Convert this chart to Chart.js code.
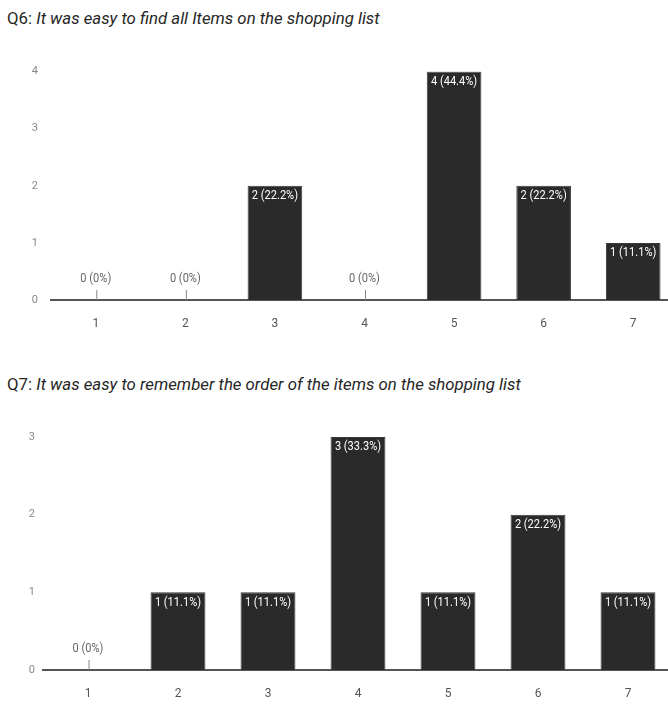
<!DOCTYPE html>
<html>
<head>
<meta charset="utf-8">
<script src="https://cdn.jsdelivr.net/npm/chart.js@4"></script>
<style>
    html, body { margin: 0; padding: 0; overflow: hidden; background: #fff; }
    body { width: 668px; height: 715px; position: relative; font-family: Roboto, sans-serif; }
    .title { position: absolute; left: 7px; font-size: 16.8px; line-height: 20px; color: #262626; white-space: nowrap; }
    .title i { font-style: italic; }
    .wrap { position: absolute; left: 0; }
</style>
</head>
<body>
<div class="title" style="top:8px">Q6: <i>It was easy to find all Items on the shopping list</i></div>
<div class="wrap" style="top:60px; width:678px; height:275px"><canvas id="q6Chart"></canvas></div>
<div class="title" style="top:374px">Q7: <i>It was easy to remember the order of the items on the shopping list</i></div>
<div class="wrap" style="top:425px; width:673px; height:280px"><canvas id="q7Chart"></canvas></div>
<script>
const scaleLabels = ['1', '2', '3', '4', '5', '6', '7'];
const q6Counts = [0, 0, 2, 0, 4, 2, 1];
const q7Counts = [0, 1, 1, 3, 1, 2, 1];
const q6Ticks = [0, 1, 2, 3, 4];
const q7Ticks = [0, 1, 2, 3];

function pctText(v, total) {
    const p = v / total * 100;
    return v + ' (' + (p === 0 ? '0' : p.toFixed(1)) + '%)';
}

// writes "n (x%)" inside each bar, or above a small stub for empty answers
const barLabels = {
    id: 'barLabels',
    afterDatasetsDraw(chart) {
        const ctx = chart.ctx;
        const data = chart.data.datasets[0].data;
        const total = data.reduce((a, b) => a + b, 0);
        const base = chart.scales.y.getPixelForValue(0);
        chart.getDatasetMeta(0).data.forEach((bar, i) => {
            const v = data[i];
            const text = pctText(v, total);
            ctx.save();
            if (v > 0) {
                ctx.translate(bar.x, bar.y + 10);
                ctx.scale(0.85, 1);
                ctx.fillStyle = '#ffffff';
            } else {
                ctx.strokeStyle = '#888';
                ctx.lineWidth = 1;
                ctx.beginPath();
                ctx.moveTo(bar.x + 1, base);
                ctx.lineTo(bar.x + 1, base - 10);
                ctx.stroke();
                ctx.translate(bar.x, base - 21);
                ctx.scale(0.85, 1);
                ctx.fillStyle = '#666';
            }
            ctx.font = '13px Roboto';
            ctx.textAlign = 'center';
            ctx.textBaseline = 'middle';
            ctx.fillText(text, 0, 0);
            ctx.restore();
        });
    }
};

function buildChart(ctx, counts, ticks, axisWidth, tickPad, topPad) {
    return new Chart(ctx, {
        type: 'bar',
        data: {
            labels: scaleLabels,
            datasets: [{
                data: counts,
                backgroundColor: '#2a2a2a',
                borderColor: '#3a3a3a',
                borderWidth: 1,
                categoryPercentage: 1,
                barPercentage: 0.61
            }]
        },
        options: {
            responsive: true,
            maintainAspectRatio: false,
            animation: false,
            layout: { padding: { top: topPad, right: 0, bottom: 0, left: 0 } },
            plugins: {
                legend: { display: false },
                tooltip: { enabled: false }
            },
            scales: {
                x: {
                    grid: { display: false },
                    border: { display: true, color: '#555', width: 2 },
                    ticks: { color: '#555', font: { family: 'Roboto', size: 12 }, padding: 9 },
                    afterFit(scale) { scale.height = 35; }
                },
                y: {
                    min: ticks[0],
                    max: ticks[ticks.length - 1],
                    afterBuildTicks(scale) { scale.ticks = ticks.map(v => ({ value: v })); },
                    grid: { display: false },
                    border: { display: false },
                    ticks: { color: '#888', font: { family: 'Roboto', size: 11 }, padding: tickPad },
                    afterFit(scale) { scale.width = axisWidth; }
                }
            }
        },
        plugins: [barLabels]
    });
}

document.addEventListener('DOMContentLoaded', () => {
    buildChart(document.getElementById('q6Chart').getContext('2d'), q6Counts, q6Ticks, 51, 5, 10);
    buildChart(document.getElementById('q7Chart').getContext('2d'), q7Counts, q7Ticks, 43, 0, 12);
});
</script>
</body>
</html>
